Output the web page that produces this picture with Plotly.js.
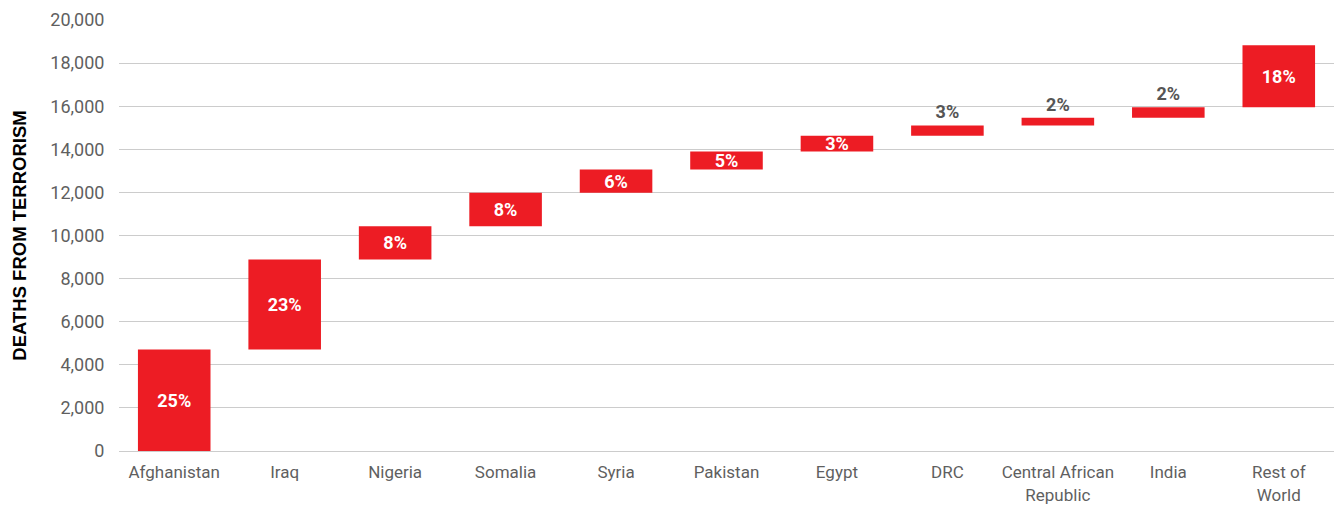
<!DOCTYPE html>
<html>
<head>
<meta charset="utf-8">
<script src="https://cdn.plot.ly/plotly-3.0.1.min.js"></script>
<style>html,body{margin:0;padding:0;background:#fff;}#chart{width:1339px;height:505px;}</style>
</head>
<body>
<div id="chart"></div>
<script>
const categories = ["Afghanistan", "Iraq", "Nigeria", "Somalia", "Syria", "Pakistan", "Egypt", "DRC", "Central African<br>Republic", "India", "Rest of<br>World"];
const deaths = [4710, 4180, 1545, 1545, 1085, 835, 725, 485, 355, 485, 2880];
const shareLabels = ["25%", "23%", "8%", "8%", "6%", "5%", "3%", "3%", "2%", "2%", "18%"];
const labelOutside = [false, false, false, false, false, false, false, true, true, true, false];
const yTickValues = [0, 2000, 4000, 6000, 8000, 10000, 12000, 14000, 16000, 18000, 20000];

// cumulative bases for the floating (waterfall) bars
const bases = [];
let run = 0;
for (const d of deaths) { bases.push(run); run += d; }

const trace = {
  type: 'bar',
  x: categories,
  y: deaths,
  base: bases,
  text: shareLabels,
  textposition: labelOutside.map(o => o ? 'outside' : 'inside'),
  insidetextanchor: 'middle',
  constraintext: 'none',
  cliponaxis: false,
  insidetextfont: {family: 'Roboto, Arial, sans-serif', size: 18, color: '#ffffff', weight: 'bold'},
  outsidetextfont: {family: 'Roboto, Arial, sans-serif', size: 18, color: '#555555', weight: 'bold'},
  textfont: {family: 'Roboto, Arial, sans-serif', size: 18, weight: 'bold'},
  marker: {color: '#ED1C24', line: {width: 0}},
  hoverinfo: 'x+y'
};

const layout = {
  width: 1339,
  height: 505,
  margin: {l: 119, r: 5, t: 20, b: 54},
  paper_bgcolor: '#ffffff',
  plot_bgcolor: '#ffffff',
  bargap: 0.343,
  showlegend: false,
  font: {family: 'Roboto, Arial, sans-serif', color: '#5f5f5f'},
  xaxis: {
    type: 'category',
    showgrid: false,
    showline: false,
    zeroline: false,
    ticks: 'outside',
    ticklen: 6,
    tickcolor: 'rgba(0,0,0,0)',
    tickfont: {size: 17, color: '#5f5f5f'},
    fixedrange: true
  },
  yaxis: {
    range: [0, 20000],
    tickvals: yTickValues,
    tickformat: ',d',
    showgrid: true,
    gridcolor: '#cccccc',
    gridwidth: 1,
    zeroline: true,
    zerolinecolor: '#cccccc',
    zerolinewidth: 1,
    showline: false,
    ticks: 'outside',
    ticklen: 10,
    tickcolor: 'rgba(0,0,0,0)',
    tickfont: {size: 18, color: '#5f5f5f'},
    title: {
      text: 'DEATHS FROM TERRORISM',
      font: {family: '"Liberation Sans", Arial, sans-serif', size: 18.5, color: '#000000', weight: 'bold'},
      standoff: 18
    },
    fixedrange: true
  }
};

Plotly.newPlot('chart', [trace], layout, {displayModeBar: false, staticPlot: true});
</script>
</body>
</html>
